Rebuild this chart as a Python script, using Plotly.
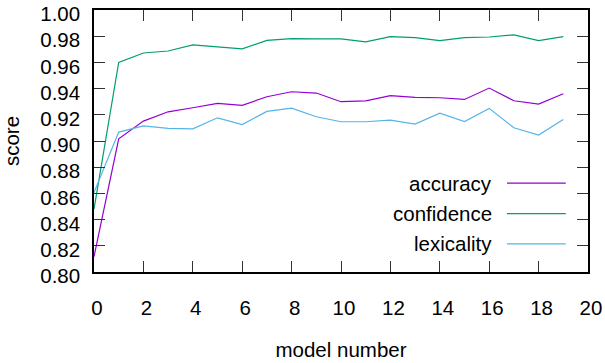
import plotly.graph_objects as go

models = list(range(20))
accuracy = [0.8117, 0.9017, 0.9152, 0.9223, 0.9254, 0.9287, 0.9272, 0.9338, 0.9376, 0.9366,
            0.9300, 0.9307, 0.9346, 0.9333, 0.9330, 0.9317, 0.9404, 0.9307, 0.9282, 0.9361]
confidence = [0.8480, 0.9600, 0.9672, 0.9687, 0.9733, 0.9718, 0.9703, 0.9768, 0.9781, 0.9779,
              0.9779, 0.9756, 0.9797, 0.9789, 0.9766, 0.9789, 0.9794, 0.9810, 0.9766, 0.9797]
lexicality = [0.8606, 0.9068, 0.9116, 0.9096, 0.9093, 0.9177, 0.9126, 0.9226, 0.9251, 0.9185,
              0.9147, 0.9147, 0.9160, 0.9129, 0.9213, 0.9149, 0.9249, 0.9101, 0.9045, 0.9165]

series_names = ["accuracy", "confidence", "lexicality"]
series_values = [accuracy, confidence, lexicality]
colors = ["#9400D3", "#009E73", "#56B4E9"]

FONT = "Liberation Sans, Arial, sans-serif"
FS = 20.5

fig = go.Figure()
for name, vals, col in zip(series_names, series_values, colors):
    fig.add_trace(go.Scatter(x=models, y=vals, mode="lines", name=name,
                             line=dict(color=col, width=1.2), showlegend=False))

# gnuplot-style key: text on the left, sample line on the right
legend_rows = [0.339, 0.223, 0.107]
for name, col, yy in zip(series_names, colors, legend_rows):
    fig.add_annotation(xref="paper", yref="paper", x=0.81, y=yy, text=name,
                       showarrow=False, xanchor="right", yanchor="middle",
                       font=dict(family=FONT, size=FS, color="black"))
    fig.add_shape(type="line", xref="paper", yref="paper", x0=0.836, x1=0.955,
                  y0=yy, y1=yy, line=dict(color=col, width=1.2))

axis_common = dict(showline=True, linecolor="black", linewidth=1.5, mirror="ticks",
                   ticks="inside", ticklen=11, tickwidth=1.2, tickcolor="#333333",
                   showgrid=False, zeroline=False, automargin=False,
                   ticklabeloverflow="allow",
                   tickfont=dict(family=FONT, size=FS, color="black"))

fig.update_xaxes(range=[0, 20], dtick=2, tick0=0, ticklabelstandoff=17,
                 ticklabelshift=3,
                 title=dict(text="model number", font=dict(family=FONT, size=FS, color="black"),
                            standoff=24),
                 **axis_common)
fig.update_yaxes(range=[0.80, 1.00], dtick=0.02, tick0=0.80, tickformat=".2f",
                 ticklabelstandoff=8, ticklabelshift=4,
                 title=dict(text="score", font=dict(family=FONT, size=FS, color="black"),
                            standoff=18),
                 **axis_common)

fig.update_layout(width=605, height=363, margin=dict(l=94, r=17, t=10, b=91),
                  plot_bgcolor="white", paper_bgcolor="white",
                  font=dict(family=FONT, size=FS, color="black"))

fig.write_html("out.html")
